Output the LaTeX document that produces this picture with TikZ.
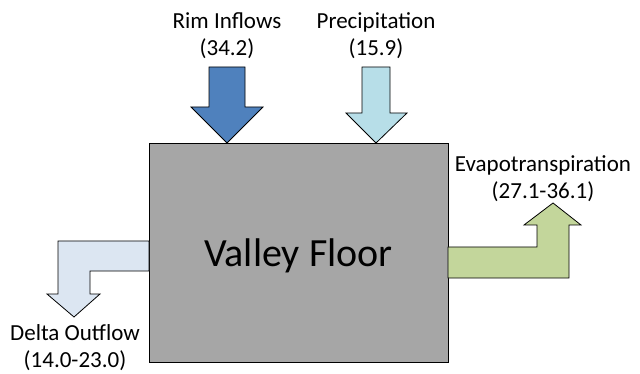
\documentclass[tikz,border=0pt]{standalone}
\usepackage{fontspec}
\setmainfont{Carlito}
\usetikzlibrary{positioning}

\definecolor{boxgray}{HTML}{A6A6A6}
\definecolor{rimblue}{HTML}{4F81BD}
\definecolor{precipblue}{HTML}{B7DEE8}
\definecolor{deltablue}{HTML}{DCE6F2}
\definecolor{etgreen}{HTML}{C3D69B}

\begin{document}
\begin{tikzpicture}[x=1pt,y=-1pt,
		flowlabel/.style={align=center,font=\fontsize{23}{27}\selectfont,inner sep=0pt}]
		\useasboundingbox (0,0) rectangle (640,374);

		% Valley floor
		\node[draw,thick,fill=boxgray,minimum width=299pt,minimum height=219pt,
			text depth=0pt,font=\fontsize{40}{44}\selectfont] (floor) at (298.5,252.5) {Valley Floor};

		% Inflows
		\draw[thick,fill=rimblue] (209,67) -- (245,67) -- (245,107) -- (263,107)
			-- (227,143) -- (191,107) -- (209,107) -- cycle;
		\draw[thick,fill=precipblue] (362,67) -- (390,67) -- (390,113) -- (407,113)
			-- (376,143) -- (346,113) -- (362,113) -- cycle;

		% Outflows
		\draw[thick,fill=deltablue] (149,241) -- (58,241) -- (58,294) -- (47,294)
			-- (74,317) -- (100,294) -- (90,294) -- (90,271) -- (149,271) -- cycle;
		\draw[thick,fill=etgreen] (448,247) -- (537,247) -- (537,225) -- (524,225)
			-- (553,203) -- (581,225) -- (569,225) -- (569,278) -- (448,278) -- cycle;

		% Labels
		\node[flowlabel] (rim) at (227,36) {Rim Inflows\\(34.2)};
		\node[flowlabel] (precip) at (376,36) {Precipitation\\(15.9)};
		\node[flowlabel] (et) at (543,179) {Evapotranspiration\\(27.1-36.1)};
		\node[flowlabel] (delta) at (75,348) {Delta Outflow\\(14.0-23.0)};
	\end{tikzpicture}
\end{document}
